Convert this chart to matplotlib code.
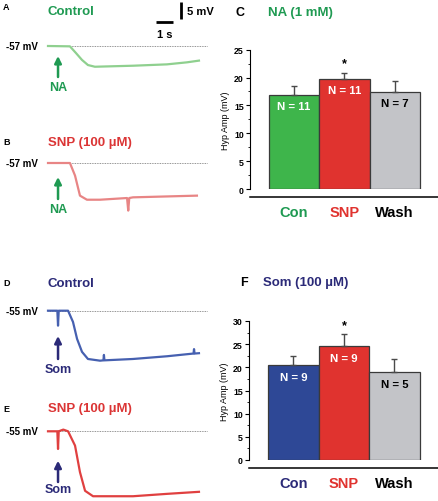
import matplotlib
matplotlib.use('Agg')
import matplotlib.pyplot as plt
import numpy as np

plt.rcParams['font.family'] = ['Liberation Sans', 'DejaVu Sans']
plt.rcParams['font.weight'] = 'bold'

# ---- data ----
# traces: (time s, membrane potential mV) keypoints
A_t = [0, 1.29, 1.65, 2.0, 2.35, 2.76, 5.0, 7.0, 8.18, 8.88]
A_mv = [-57.0, -57.1, -59.1, -61.1, -62.6, -63.1, -62.8, -62.4, -61.8, -61.3]
B_t = [0, 1.29, 1.59, 1.88, 2.29, 3.06, 4.65, 4.72, 4.78, 5.0, 8.76]
B_mv = [-57.0, -57.0, -60.7, -66.6, -67.8, -67.8, -67.3, -71.0, -67.3, -67.1, -66.6]
D_t = [0, 0.55, 0.59, 0.63, 1.18, 1.47, 1.71, 2.0, 2.35, 3.06, 3.26, 3.29, 3.32,
       5.0, 7.0, 8.56, 8.59, 8.62, 8.88]
D_mv = [-55.0, -55.0, -59.4, -55.0, -55.0, -58.3, -63.3, -67.1, -69.2, -69.7, -69.6,
        -68.0, -69.6, -69.2, -68.4, -67.6, -66.3, -67.6, -67.5]
E_t = [0, 0.55, 0.59, 0.63, 0.9, 1.18, 1.59, 1.88, 2.18, 2.65, 5.0, 7.0, 8.88]
E_mv = [-55.0, -55.0, -60.2, -55.0, -54.5, -55.0, -59.2, -67.0, -72.5, -74.1, -74.1,
        -73.4, -72.8]
baselines = [-57, -57, -55, -55]
baseline_span = 9.35  # s
drug_time = 0.59      # s
scale_s = 1
scale_mv = 5

groups = ['Con', 'SNP', 'Wash']
na_mean = [16.9, 19.7, 17.4]
na_err = [1.5, 1.2, 1.9]
na_n = [11, 11, 7]
som_mean = [20.4, 24.5, 18.9]
som_err = [2.0, 2.7, 2.9]
som_n = [9, 9, 5]
sig = ['', '*', '']

# ---- colours ----
GREEN_T = '#1f9a52'
RED_T = '#db3535'
NAVY_T = '#2b2a78'

W, H = 439, 502
fig = plt.figure(figsize=(W / 100, H / 100), dpi=100)


def rect(l, t, w, h):
    return [l / W, 1 - (t + h) / H, w / W, h / H]


def pt(x, y):
    return x / W, 1 - y / H


PX_S, PX_MV, T0 = 17.0, 3.4, 48


def trace_axes(top, bottom, base_row, base_mv):
    ax = fig.add_axes(rect(0, top, 220, bottom - top))
    ax.set_xlim(-T0 / PX_S, (220 - T0) / PX_S)
    ax.set_ylim(base_mv - (bottom - base_row) / PX_MV, base_mv + (base_row - top) / PX_MV)
    ax.axis('off')
    return ax


traces = [
    ('A', 'Control', GREEN_T, A_t, A_mv, '#8fd08f', 0, 130, 47, 'NA', GREEN_T, 8, 12),
    ('B', 'SNP (100 \u00b5M)', RED_T, B_t, B_mv, '#e88585', 130, 260, 164, 'NA', GREEN_T, 143, 143),
    ('D', 'Control', NAVY_T, D_t, D_mv, '#4660b0', 260, 380, 311.7, 'Som', NAVY_T, 284, 284),
    ('E', 'SNP (100 \u00b5M)', RED_T, E_t, E_mv, '#e04040', 380, 502, 432.3, 'Som', NAVY_T, 409, 409),
]
arrow_rows = [(57, 78, 88), (178, 200, 210), (337, 360, 370), (461.7, 483, 490)]

for i, (let, title, tcol, tt, mv, lcol, top, bot, brow, drug, dcol, ly, ty) in enumerate(traces):
    ax = trace_axes(top, bot, brow, baselines[i])
    base = baselines[i]
    ax.plot([0, baseline_span], [base, base], ls=(0, (1, 1)), color='#707070', lw=0.6)
    ax.plot(tt, mv, color=lcol, lw=1.6, solid_joinstyle='round')
    ax.text(-0.6, base, f'{base} mV', ha='right', va='center', fontsize=7)
    tip, tail, txt = arrow_rows[i]
    to_mv = lambda r: base - (r - brow) / PX_MV
    ax.annotate('', xy=(drug_time, to_mv(tip)), xytext=(drug_time, to_mv(tail)),
                arrowprops=dict(arrowstyle='-|>', color=dcol, lw=1.8, mutation_scale=10,
                                shrinkA=0, shrinkB=0))
    ax.text(drug_time, to_mv(txt), drug, ha='center', va='center', color=dcol, fontsize=9)
    fig.text(*pt(3, ly), let, ha='left', va='center', fontsize=6.5)
    fig.text(*pt(48, ty), title, ha='left', va='center', color=tcol, fontsize=9.5)
    if i == 0:
        hx0 = (156 - T0) / PX_S
        hy = base - (23.3 - brow) / PX_MV
        ax.plot([hx0, hx0 + scale_s], [hy, hy], color='black', lw=2, solid_capstyle='butt')
        vx = (181 - T0) / PX_S
        vy0 = base - (20 - brow) / PX_MV
        ax.plot([vx, vx], [vy0, vy0 + scale_mv], color='black', lw=2, solid_capstyle='butt')
        ax.text(hx0 + scale_s / 2, hy - 3.4, f'{scale_s} s', ha='center', va='center', fontsize=8)
        ax.text(vx + 0.35, vy0 + scale_mv / 2, f'{scale_mv} mV', ha='left', va='center', fontsize=8)


def bar_panel(r, ytop, step, means, errs, ns, con_col, con_txt, letter, lx, ly, title, tx, tcol):
    ax = fig.add_axes(rect(*r))
    x = np.arange(len(groups))
    cols = [con_col, '#e0332f', '#c3c4c8']
    ax.bar(x, means, width=1.0, color=cols, edgecolor='#3a3a3a', linewidth=0.9, zorder=2)
    ax.errorbar(x, means, yerr=[np.zeros(len(errs)), errs], fmt='none', ecolor='#4a4a4a',
                elinewidth=1.0, capsize=2, capthick=1.0, zorder=3)
    for xi, m, e, n, s in zip(x, means, errs, ns, sig):
        ax.annotate(f'N = {n}', (xi, m), xytext=(0, -8), textcoords='offset points',
                    ha='center', va='center', fontsize=8.2,
                    color='black' if groups[xi] == 'Wash' else 'white')
        if s:
            ax.annotate(s, (xi, m + e), xytext=(0, 6.5), textcoords='offset points',
                        ha='center', va='center', fontsize=9)
    ax.set_xlim(-0.875, 2.86)
    ax.set_ylim(0, ytop)
    ax.set_yticks(np.arange(0, ytop + 0.1, step))
    ax.set_yticks(np.arange(step / 2, ytop, step), minor=True)
    ax.tick_params(axis='y', which='major', length=3, width=0.8, pad=1.5, labelsize=6.3)
    ax.tick_params(axis='y', which='minor', length=1.8, width=0.6)
    ax.spines['top'].set_visible(False)
    ax.spines['right'].set_visible(False)
    ax.spines['left'].set_linewidth(0.8)
    ax.spines['bottom'].set_position(('outward', 5.8))
    ax.spines['bottom'].set_linewidth(1.1)
    ax.set_xticks(x, groups)
    ax.tick_params(axis='x', length=0, pad=6, labelsize=10.5)
    for lab, c in zip(ax.get_xticklabels(), [con_txt, '#e0332f', 'black']):
        lab.set_color(c)
    ax.set_ylabel('Hyp Amp (mV)', fontsize=6.5, fontweight='normal', labelpad=3)
    fig.text(*pt(lx, ly), letter, ha='left', va='center', fontsize=9)
    fig.text(*pt(tx, ly), title, ha='left', va='center', color=tcol, fontsize=9.5)
    return ax


bar_panel((250, 50.7, 188, 139.3), 25, 5, na_mean, na_err, na_n, '#3eb54b', GREEN_T,
          'C', 236, 13, 'NA (1 mM)', 268, GREEN_T)
bar_panel((249, 322, 189, 139), 30, 5, som_mean, som_err, som_n, '#2e4896', NAVY_T,
          'F', 240, 283, 'Som (100 \u00b5M)', 263, NAVY_T)

fig.savefig('out.png', dpi=100)
